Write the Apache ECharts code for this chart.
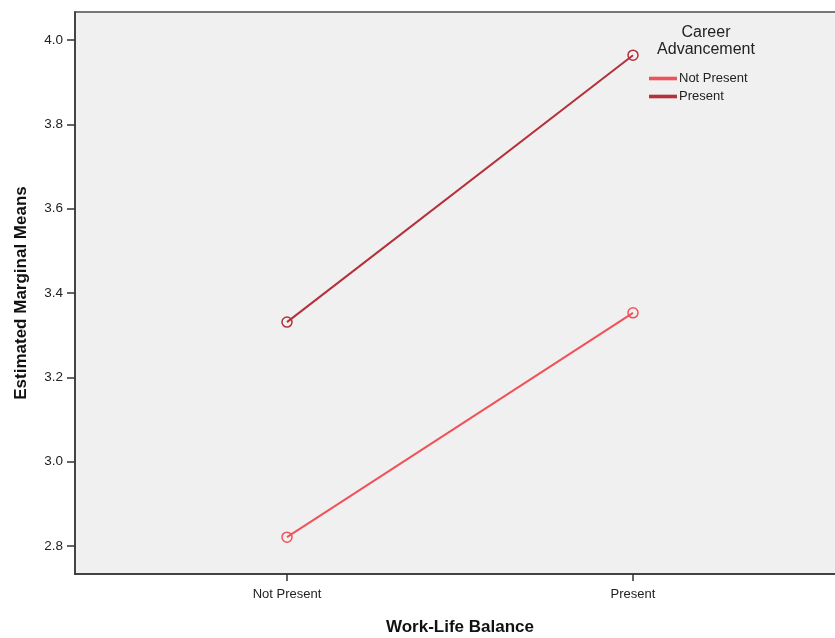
<!DOCTYPE html>
<html><head><meta charset="utf-8">
<script src="https://cdn.jsdelivr.net/npm/echarts@6/dist/echarts.min.js"></script>
<style>html,body{margin:0;padding:0;background:#fff}#c{width:835px;height:638px}</style>
</head><body><div id="c"></div>
<script>
const categories = ['Not Present', 'Present'];
const seriesNames = ['Not Present', 'Present'];
const notPresentValues = [2.821, 3.353];
const presentValues = [3.331, 3.964];
const yTicks = [2.8, 3.0, 3.2, 3.4, 3.6, 3.8, 4.0];
const legendTitle = 'Career\nAdvancement';
const xTitle = 'Work-Life Balance';
const yTitle = 'Estimated Marginal Means';

const colors = ['#f0525a', '#b4303a'];
const xPos = categories.map((c, i) => i + 1);
const font = 'Liberation Sans, Arial, sans-serif';

const chart = echarts.init(document.getElementById('c'));
chart.setOption({
  animation: false,
  textStyle: { fontFamily: font },
  title: {
    text: legendTitle, left: 701, top: 19, textAlign: 'center',
    textStyle: { fontSize: 16, fontWeight: 'normal', color: '#222', lineHeight: 17, fontFamily: font }
  },
  legend: {
    orient: 'vertical', left: 644, top: 67, itemGap: 5,
    itemWidth: 26, itemHeight: 1.6, icon: 'rect',
    textStyle: { fontSize: 13, color: '#222', padding: [0, 0, 0, -2] },
    data: seriesNames.map((n, i) => ({ name: n, itemStyle: { color: colors[i] } }))
  },
  grid: {
    left: 75, top: 12, width: 770, height: 562,
    outerBoundsMode: 'none', containLabel: false,
    show: true, backgroundColor: '#f0f0f0', borderColor: '#777', borderWidth: 2
  },
  xAxis: {
    type: 'value', min: 0.3873, max: 2.6127,
    name: xTitle, nameLocation: 'middle', nameGap: 45,
    nameTextStyle: { fontSize: 17, fontWeight: 'bold', color: '#111' },
    axisLine: { show: true, lineStyle: { color: '#333', width: 1.5 } },
    axisTick: { show: true, length: 7, customValues: xPos, lineStyle: { color: '#333', width: 1.5 } },
    axisLabel: { customValues: xPos, fontSize: 13, color: '#222', margin: 14,
      formatter: v => categories[Math.round(v) - 1] || '' },
    splitLine: { show: false }
  },
  yAxis: {
    type: 'value', min: 2.7336, max: 4.0664,
    name: yTitle, nameLocation: 'middle', nameGap: 45, nameRotate: 90,
    nameTextStyle: { fontSize: 17, fontWeight: 'bold', color: '#111' },
    axisLine: { show: true, lineStyle: { color: '#333', width: 1.5 } },
    axisTick: { show: true, length: 8, customValues: yTicks, lineStyle: { color: '#333', width: 1.5 } },
    axisLabel: { customValues: yTicks, fontSize: 13.5, color: '#222', margin: 12,
      formatter: v => v.toFixed(1) },
    splitLine: { show: false }
  },
  series: [
    { name: seriesNames[0], type: 'line', color: colors[0],
      data: xPos.map((x, i) => [x, notPresentValues[i]]),
      symbol: 'circle', symbolSize: 10, lineStyle: { width: 2, color: colors[0] },
      itemStyle: { color: 'rgba(0,0,0,0)', borderColor: colors[0], borderWidth: 1.5 } },
    { name: seriesNames[1], type: 'line', color: colors[1],
      data: xPos.map((x, i) => [x, presentValues[i]]),
      symbol: 'circle', symbolSize: 10, lineStyle: { width: 2, color: colors[1] },
      itemStyle: { color: 'rgba(0,0,0,0)', borderColor: colors[1], borderWidth: 1.5 } }
  ]
});
</script></body></html>
